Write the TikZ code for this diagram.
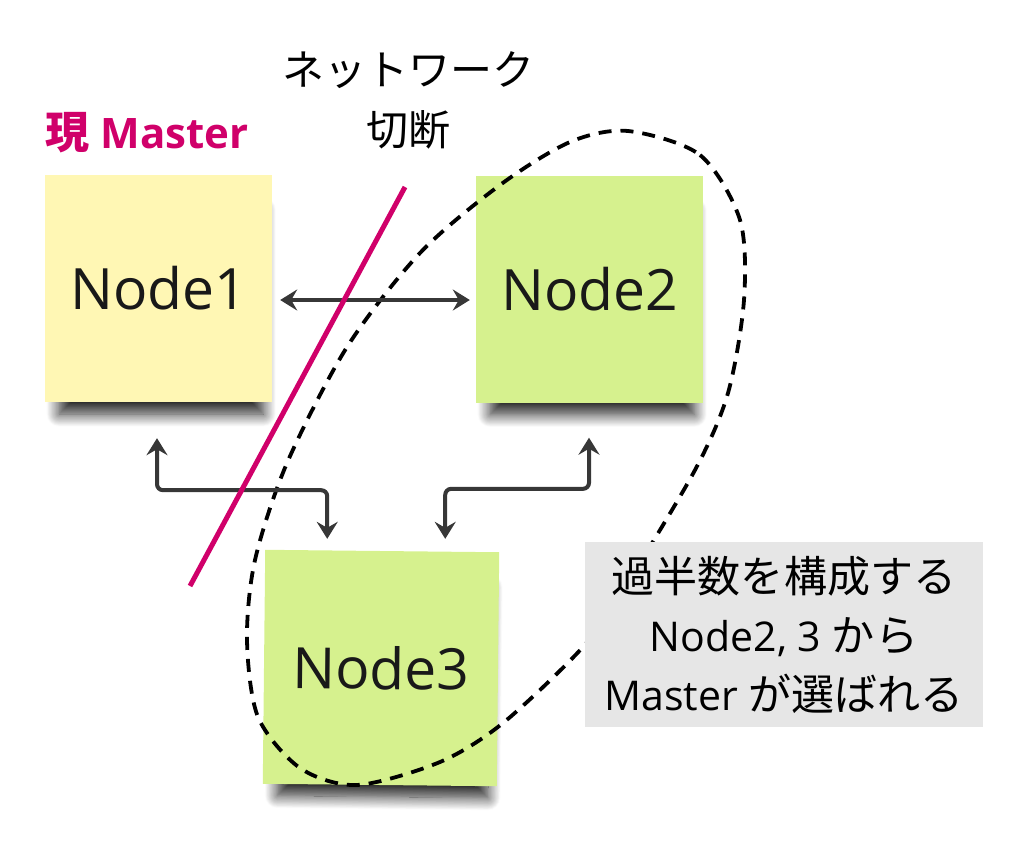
\documentclass[tikz,border=0pt]{standalone}
\usepackage{fontspec}
\setmainfont{Open Sans}
\newfontfamily\jpfont{Noto Sans CJK JP}[Scale=1.05]
\usepackage{tikz}
\usetikzlibrary{arrows.meta, shadows.blur}

\definecolor{mastermag}{RGB}{208,0,106}
\definecolor{stickyyellow}{RGB}{255,247,180}
\definecolor{stickygreen}{RGB}{214,241,142}
\definecolor{notegray}{RGB}{230,230,230}
\definecolor{linkgray}{RGB}{55,55,55}

\begin{document}
\begin{tikzpicture}[x=1pt, y=-1pt,
  sticky/.style={minimum width=227pt, minimum height=227pt, inner sep=0pt,
    text=black!90, font=\fontsize{57}{62}\selectfont,
    blur shadow={shadow xshift=3pt, shadow yshift=-26pt, shadow scale=0.9,
      shadow blur radius=14pt, shadow blur steps=16, shadow opacity=85}},
  link/.style={draw=linkgray, line width=4pt, rounded corners=6pt,
    {Stealth[length=17pt,width=21pt,inset=6pt]}-{Stealth[length=17pt,width=21pt,inset=6pt]}}]
  \useasboundingbox (0,0) rectangle (1024,844);

  % sticky notes
  \node[sticky, fill=stickyyellow] (Node1) at (158.5,288.5) {Node1};
  \node[sticky, fill=stickygreen] (Node2) at (589.5,289) {Node2};
  \node[sticky, fill=stickygreen, minimum width=234pt, minimum height=234pt, rotate=-0.6] (Node3) at (381,668) {Node3};

  % majority group
  \draw[line width=3.8pt, dash pattern=on 13pt off 9pt] plot[smooth cycle] coordinates {
    (628,131) (700,155) (740,220) (744,300) (728,393) (695,470) (623,590)
    (582,648) (503,723) (440,762) (357,785) (300,768) (258,717) (247,640)
    (255,560) (287,463) (347,347) (420,253) (500,185) (570,142)};

  % links
  \draw[link] ([shift={(8,11.5)}]Node1.east) -- ([shift={(-6,11)}]Node2.west);
  \draw[link] ([shift={(-1.5,36)}]Node1.south) -- ++(0,52) -| ([shift={(-55,-12)}]Node3.north);
  \draw[link] ([shift={(63,-12)}]Node3.north) -- ++(0,-50) -| ([shift={(-0.5,35)}]Node2.south);

  % partition
  \coordinate (cutA) at (405,187);
  \coordinate (cutB) at (190,586);
  \draw[mastermag, line width=5pt] (cutA) -- (cutB);

  % labels
  \node[anchor=west, text=mastermag, font=\bfseries\fontsize{42}{48}\selectfont] (mastertag) at (42,133) {{\jpfont 現} Master};
  \node[align=center, font=\fontsize{40}{60}\selectfont\jpfont] (cuttag) at (408,100) {ネットワーク\\切断};
  \node[fill=notegray, minimum width=398pt, minimum height=185pt, align=center,
    font=\fontsize{41}{59}\selectfont] (quorum) at (784,634.5)
    {{\jpfont 過半数を構成する}\\Node2, 3 {\jpfont から}\\Master {\jpfont が選ばれる}};
\end{tikzpicture}
\end{document}
